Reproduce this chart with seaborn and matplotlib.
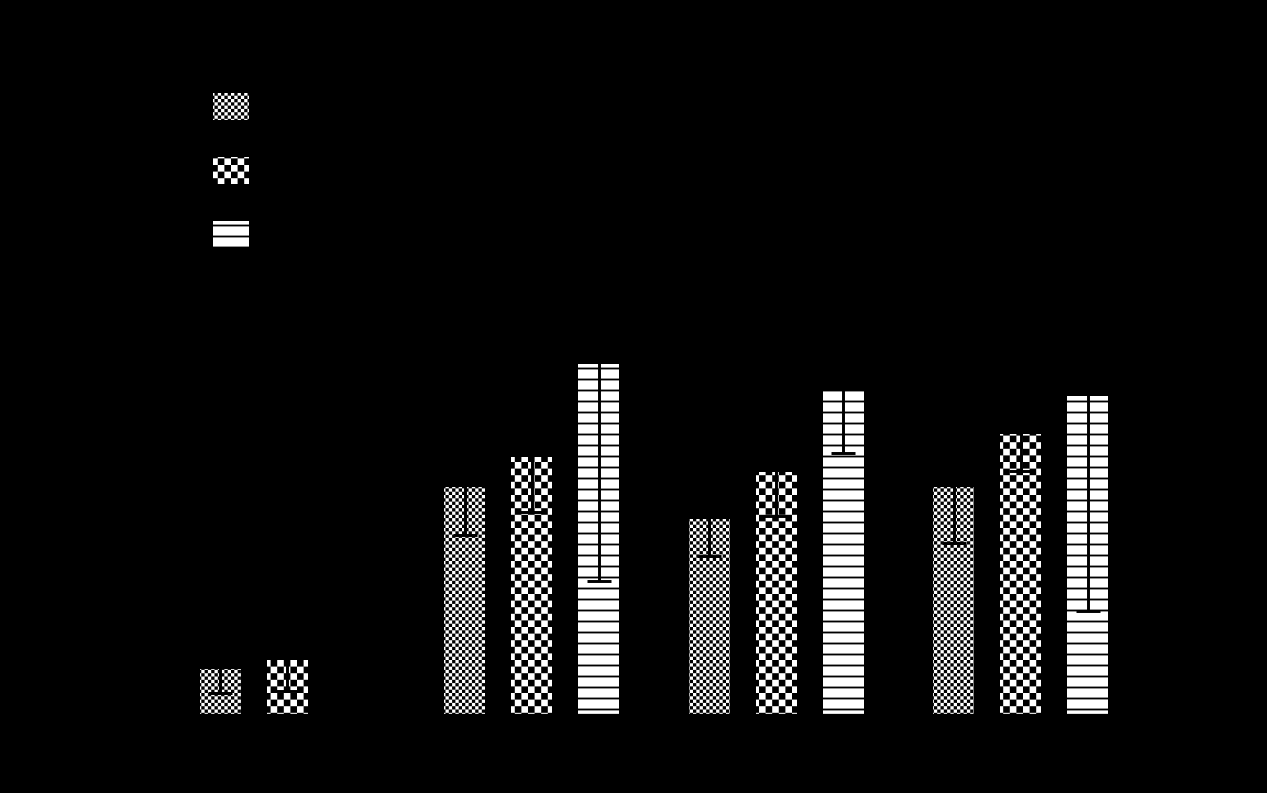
import numpy as np
import pandas as pd
import matplotlib
matplotlib.use("Agg")
import matplotlib.pyplot as plt
import matplotlib.hatch as mhatch
from matplotlib.path import Path
from matplotlib.container import BarContainer
import seaborn as sns

# ---- data -------------------------------------------------------------
categories = ["Group 1", "Group 2", "Group 3", "Group 4"]
series = ["Series A", "Series B", "Series C"]
values_a = [4.6, 22.8, 19.6, 22.8]
values_b = [5.5, 25.8, 24.3, 28.1]
values_c = [np.nan, 35.1, 32.4, 31.9]
errors_a = [2.4, 4.8, 3.7, 5.6]
errors_b = [3.1, 5.5, 4.4, 3.7]
errors_c = [np.nan, 21.7, 6.2, 21.5]

hatches = ["oo", "o", "--"]


# ---- checkerboard hatch -------------------------------------------------
class CheckerHatch(mhatch.HatchPatternBase):
    """Checkerboard of filled squares; every 'o' adds ten periods per inch."""

    def __init__(self, hatch, density):
        self.periods = 10 * hatch.count("o")
        self.num_vertices = 2 * self.periods ** 2 * 5

    def set_vertices_and_codes(self, vertices, codes):
        cells = 2 * self.periods
        step = 1.0 / cells
        inset = 0.5 / 72  # the 1 pt hatch stroke widens each square
        side = step - 2 * inset
        square = np.array([[0, 0], [side, 0], [side, side], [0, side], [0, 0]])
        k = 0
        for i in range(cells):
            for j in range(cells):
                if (i + j) % 2:
                    continue
                origin = np.array([i * step + inset, j * step + inset])
                vertices[k:k + 5] = square + origin
                codes[k] = Path.MOVETO
                codes[k + 1:k + 4] = Path.LINETO
                codes[k + 4] = Path.CLOSEPOLY
                k += 5


mhatch._hatch_types[:] = [mhatch.HorizontalHatch, CheckerHatch]

# ---- long-form table ---------------------------------------------------
records = []
for s, vals, errs in zip(series, [values_a, values_b, values_c],
                         [errors_a, errors_b, errors_c]):
    for c, v, e in zip(categories, vals, errs):
        if not np.isnan(v):
            records.append((c, s, v, e))
df = pd.DataFrame(records, columns=["category", "series", "value", "error"])

# ---- style ---------------------------------------------------------------
sns.set_theme(style="white")
plt.rcParams.update({
    "figure.facecolor": "black",
    "axes.facecolor": "black",
    "axes.edgecolor": "black",
    "axes.labelcolor": "black",
    "text.color": "black",
    "xtick.color": "black",
    "ytick.color": "black",
    "hatch.color": "black",
    "hatch.linewidth": 1.0,
})

DPI = 132
fig, ax = plt.subplots(figsize=(1267 / DPI, 793 / DPI), dpi=DPI)
fig.subplots_adjust(left=165 / 1267, right=1143 / 1267,
                    bottom=1 - 715 / 793, top=1 - 55 / 793)

sns.barplot(data=df, x="category", y="value", hue="series",
            order=categories, hue_order=series,
            palette=["white"] * 3, saturation=1, errorbar=None,
            width=0.82, gap=0.385, edgecolor="black", linewidth=0,
            legend=False, ax=ax)

bar_containers = [c for c in ax.containers if isinstance(c, BarContainer)]

for container, hatch, s in zip(bar_containers, hatches, series):
    sub = df[df["series"] == s]
    for bar, (_, row) in zip(container, sub.iterrows()):
        bar.set_hatch(hatch)
        ax.errorbar(bar.get_x() + bar.get_width() / 2, row["value"],
                    yerr=row["error"], fmt="none", ecolor="black",
                    elinewidth=1.6, capsize=6.3, capthick=1.6)

ax.set_xlim(-0.5, len(categories) - 0.5)
ax.set_ylim(0, 66)
ax.set_xlabel("")
ax.set_ylabel("Value")

ax.legend(handles=[c.patches[0] for c in bar_containers], labels=series,
          loc="upper left", bbox_to_anchor=(213 / 1267, 1 - 93 / 793),
          bbox_transform=fig.transFigure, frameon=False, fontsize=14,
          handlelength=1.4, handleheight=1.23, labelspacing=1.41,
          borderpad=0, borderaxespad=0, handletextpad=0.8)

fig.savefig("out.png", dpi=DPI, facecolor="black")
